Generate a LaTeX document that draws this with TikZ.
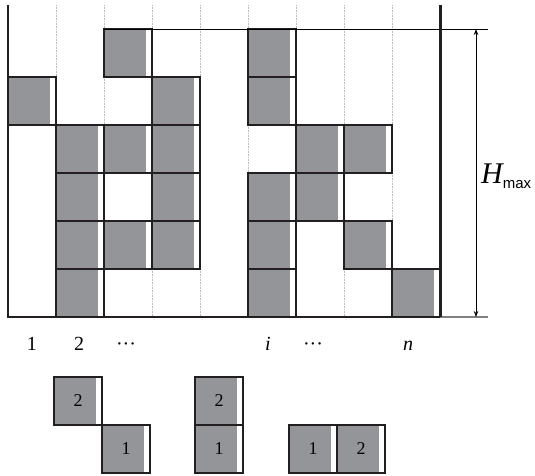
\documentclass[tikz,border=0pt]{standalone}
\usepackage{fontspec}
\setmainfont{Liberation Serif}
\newfontfamily\hsans{Liberation Sans}
\usetikzlibrary{arrows.meta}
\definecolor{gfill}{HTML}{939598}
\definecolor{dk}{HTML}{231F20}
\begin{document}
\begin{tikzpicture}[x=1pt,y=-1pt,
  blk/.style={rectangle, minimum size=48pt, inner sep=0pt, draw=dk, line width=2.7pt,
    path picture={\fill[gfill] (path picture bounding box.north west) rectangle ([xshift=-6.5pt]path picture bounding box.south east);},
    font=\fontsize{18}{20}\selectfont},
  guide/.style={gray!55, line width=0.8pt, dash pattern=on 0.8pt off 0.8pt},
  wall/.style={dk, line width=2.7pt},
  thin/.style={black, line width=0.8pt},
  lab/.style={font=\fontsize{20}{22}\selectfont, anchor=base, inner sep=0pt}]
\useasboundingbox (0,0) rectangle (535,475);

% dotted column guides
\foreach \x in {56,104,152,200,248,296,344,392}
  \draw[guide] (\x,5) -- (\x,317);

% grey blocks (column / row from bottom)
\foreach \c/\r in {1/5, 2/1,2/2,2/3,2/4, 3/2,3/4,3/6, 4/2,4/3,4/4,4/5,
                   6/1,6/2,6/3,6/5,6/6, 7/3,7/4, 8/2,8/4, 9/1}
  \node[blk] (g\c-\r) at ({48*\c-16},{341-48*\r}) {};

% top line, floor and walls
\coordinate (tl) at (104,29);
\coordinate (tr) at (488,29);
\coordinate (bl) at (8,317);
\coordinate (br) at (440,317);
\coordinate (be) at (488,317);
\coordinate (lw) at (8,5);
\coordinate (rw) at (440,5);
\draw[thin] (tl) -- (tr);
\draw[gray, line width=1.2pt] (br) -- (be);
\draw[wall] (lw) -- (bl) -- (br);
\draw[dk, line width=3pt] (rw) -- (br);

% H_max dimension
\coordinate (ha) at (476,29);
\coordinate (hb) at (476,317);
\draw[thin, {Stealth[length=6pt,width=4.5pt]}-{Stealth[length=6pt,width=4.5pt]}] (ha) -- (hb);
\node[anchor=base west, inner sep=0pt] (hmax) at (481,183)
  {{\fontsize{30}{30}\selectfont\itshape H}\raisebox{-5pt}{\hsans\fontsize{15}{15}\selectfont max}};

% column labels
\node[lab] (l1) at (32,350) {1};
\node[lab] (l2) at (79,350) {2};
\node[lab] (l3) at (126,350) {···};
\node[lab] (li) at (268,350) {\itshape i};
\node[lab] (l7) at (313,350) {···};
\node[lab] (ln) at (408,350) {\itshape n};

% bottom pieces
\node[blk] (a2) at (78,401) {2};
\node[blk] (a1) at (126,449) {1};
\node[blk] (b2) at (219,401) {2};
\node[blk] (b1) at (219,449) {1};
\node[blk] (c1) at (313,449) {1};
\node[blk] (c2) at (361,449) {2};
\end{tikzpicture}
\end{document}
